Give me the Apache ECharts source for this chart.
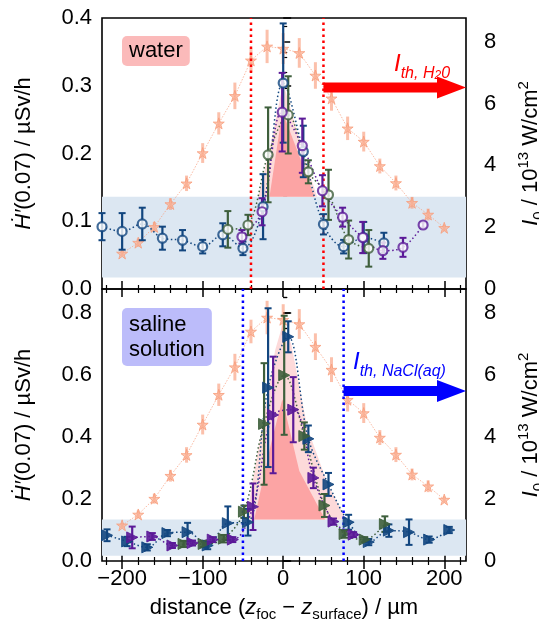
<!DOCTYPE html>
<html>
<head>
<meta charset="utf-8">
<script src="https://cdn.jsdelivr.net/npm/echarts@6/dist/echarts.min.js"></script>
<style>
  html, body { margin: 0; padding: 0; background: #fff; }
  #chart { width: 539px; height: 624px; }
</style>
</head>
<body>
<div id="chart"></div>
<script>
// ---- axis ranges and ticks ----
const X_RANGE = [-225, 227];
const xMajor = [-200, -100, 0, 100, 200];
const xMinor = [-220, -180, -160, -140, -120, -80, -60, -40, -20, 20, 40, 60, 80, 120, 140, 160, 180, 220];
const yTopRange = [0, 0.4];
const yTopMajor = [0, 0.1, 0.2, 0.3, 0.4];
const yTopMinor = [0.05, 0.15, 0.25, 0.35];
const yBotRange = [0, 0.8772];
const yBotMajor = [0, 0.2, 0.4, 0.6, 0.8];
const yBotMinor = [0.05, 0.1, 0.15, 0.25, 0.3, 0.35, 0.45, 0.5, 0.55, 0.65, 0.7, 0.75, 0.85];
const iRange = [0, 8.77];
const iMajor = [0, 2, 4, 6, 8];
const iMinor = [0.5, 1, 1.5, 2.5, 3, 3.5, 4.5, 5, 5.5, 6.5, 7, 7.5, 8.5];

// ---- peak intensity along z (right axis, 10^13 W/cm²) ----
const starX = [-200, -180, -160, -140, -120, -100, -80, -60, -40, -20, 0, 20, 40, 60, 80, 100, 120, 140, 160, 180, 200];
const starI = [1.15, 1.50, 2.01, 2.75, 3.42, 4.40, 5.36, 6.25, 7.40, 7.85, 7.78, 7.64, 6.91, 6.17, 5.20, 4.77, 3.98, 3.43, 2.79, 2.41, 1.98];
const starErr = [0.08, 0.13, 0.16, 0.19, 0.25, 0.32, 0.36, 0.43, 0.38, 0.54, 0.5, 0.48, 0.43, 0.4, 0.38, 0.32, 0.24, 0.24, 0.19, 0.19, 0.1];

// ---- dose rate, water ----
const waterBlueX = [-225, -200, -175, -150, -125, -100, -75, -50, -25, 0, 25, 50, 75, 100, 125];
const waterBlueV = [0.092, 0.085, 0.096, 0.075, 0.072, 0.0625, 0.080, 0.060, 0.1215, 0.304, 0.203, 0.0955, 0.0625, 0.076, 0.068];
const waterBlueE = [0.02, 0.027, 0.024, 0.017, 0.015, 0.01, 0.017, 0.01, 0.048, 0.088, 0.038, 0.015, 0.01, 0.023, 0.015];
const waterGreenX = [-68.75, -43.75, -18.75, 6.25, 31.25, 56.25, 81.25, 106.25];
const waterGreenV = [0.088, 0.0945, 0.198, 0.257, 0.173, 0.139, 0.073, 0.060];
const waterGreenE = [0.027, 0.015, 0.07, 0.057, 0.017, 0.037, 0.028, 0.027];
const waterPurpleX = [-51.25, -26.25, -1.25, 23.75, 48.75, 73.75, 98.75, 123.75, 148.75, 173.75];
const waterPurpleV = [0.077, 0.114, 0.261, 0.2115, 0.145, 0.106, 0.076, 0.0565, 0.0615, 0.0945];
const waterPurpleE = [0.01, 0.02, 0.058, 0.04, 0.023, 0.014, 0.023, 0.012, 0.014, 0.004];

// ---- dose rate, saline solution ----
const salineBlueX = [-218.75, -193.75, -168.75, -143.75, -118.75, -93.75, -68.75, -43.75, -18.75, 6.25, 31.25, 56.25, 81.25, 106.25, 131.25, 156.25, 181.25, 206.25];
const salineBlueV = [0.083, 0.063, 0.044, 0.09, 0.093, 0.05, 0.122, 0.125, 0.559, 0.723, 0.394, 0.247, 0.125, 0.061, 0.098, 0.093, 0.069, 0.1];
const salineBlueE = [0.019, 0.015, 0.01, 0.01, 0.03, 0.012, 0.054, 0.043, 0.256, 0.05, 0.043, 0.037, 0.024, 0.01, 0.02, 0.041, 0.01, 0.01];
const salineGreenX = [-123.75, -98.75, -73.75, -48.75, -23.75, 1.25, 26.25, 51.25, 76.25, 101.25, 126.25];
const salineGreenV = [0.055, 0.055, 0.072, 0.159, 0.442, 0.599, 0.403, 0.179, 0.087, 0.069, 0.119];
const salineGreenE = [0.01, 0.01, 0.012, 0.02, 0.196, 0.192, 0.044, 0.037, 0.012, 0.008, 0.025];
const salinePurpleX = [-187.5, -162.5, -137.5, -112.5, -87.5, -62.5, -37.5, -12.5, 12.5, 37.5, 62.5, 87.5];
const salinePurpleV = [0.076, 0.079, 0.05, 0.058, 0.069, 0.069, 0.175, 0.471, 0.488, 0.268, 0.127, 0.085];
const salinePurpleE = [0.035, 0.011, 0.008, 0.008, 0.008, 0.008, 0.075, 0.188, 0.105, 0.033, 0.01, 0.008];

// ---- background band and above-background regions ----
const waterBand = [0.017, 0.136];
const salineBand = [0.017, 0.134];
const waterEnvelopeX = [-31, -18, 0, 25, 42];
const waterEnvelopeV = [0.136, 0.2, 0.304, 0.2, 0.136];
const waterCoreX = [-17, -1, 22, 39];
const waterCoreV = [0.136, 0.262, 0.19, 0.136];
const salineEnvelopeX = [-46, -25, -10, -1, 10, 30, 55, 78];
const salineEnvelopeV = [0.134, 0.45, 0.68, 0.76, 0.7, 0.43, 0.25, 0.134];
const salineCoreX = [-36, -15, -1, 20, 52];
const salineCoreV = [0.134, 0.38, 0.522, 0.29, 0.134];

// ---- ablation thresholds: focus positions (µm) and intensity level ----
const waterThresholdX = [-40, 50];
const waterThresholdI = [6.52];
const salineThresholdX = [-50, 75];
const salineThresholdI = [5.48];

const FONT = "'Liberation Sans', Arial, sans-serif";
const FS = 22;
const BLUE = '#12467f';
const GREEN = '#3e5f3c';
const PURPLE = '#5b1a98';
const STAR = '#f89d7c';

const minus = v => (v < 0 ? '\u2212' + Math.abs(v) : String(v));

function xAxisSet(gridIndex, withLabels) {
  const base = { type: 'value', gridIndex, min: X_RANGE[0], max: X_RANGE[1], splitLine: { show: false }, axisLine: { show: false } };
  const major = { show: true, inside: true, length: 8, customValues: xMajor, lineStyle: { color: '#000', width: 1.5 } };
  const minor = { show: true, inside: true, length: 4, customValues: xMinor, lineStyle: { color: '#000', width: 1.2 } };
  const axes = [
    Object.assign({}, base, { position: 'bottom', axisTick: major,
      axisLabel: { show: withLabels, customValues: xMajor, formatter: minus, fontFamily: FONT, fontSize: FS, color: '#000', margin: 7 } }),
    Object.assign({}, base, { position: 'bottom', axisTick: minor, axisLabel: { show: false } }),
    Object.assign({}, base, { position: 'top', axisTick: major, axisLabel: { show: false } }),
    Object.assign({}, base, { position: 'top', axisTick: minor, axisLabel: { show: false } })
  ];
  if (withLabels) {
    axes[0].name = 'distance ({i|z}{sub|foc} \u2212 {i|z}{sub|surface}) / µm';
    axes[0].nameLocation = 'middle';
    axes[0].nameGap = 33;
    axes[0].nameTextStyle = { fontFamily: FONT, fontSize: FS, color: '#000', lineHeight: 28,
      rich: { i: { fontStyle: 'italic', fontSize: FS, fontFamily: FONT, lineHeight: 28 },
              sub: { fontSize: 15, fontFamily: FONT, verticalAlign: 'bottom', lineHeight: 28 } } };
  }
  return axes;
}

const nameRich = {
  i: { fontStyle: 'italic', fontSize: FS, fontFamily: FONT, lineHeight: 30 },
  sub: { fontStyle: 'normal', fontSize: 15, fontFamily: FONT, verticalAlign: 'bottom', lineHeight: 30 },
  sup: { fontSize: 15, fontFamily: FONT, verticalAlign: 'top', lineHeight: 30 }
};

function yAxisSet(gridIndex, range, major, minor, digits) {
  const leftBase = { type: 'value', gridIndex, min: range[0], max: range[1], position: 'left', splitLine: { show: false }, axisLine: { show: false } };
  const rightBase = { type: 'value', gridIndex, min: iRange[0], max: iRange[1], position: 'right', splitLine: { show: false }, axisLine: { show: false } };
  return [
    Object.assign({}, leftBase, {
      axisTick: { show: true, inside: true, length: 8, customValues: major, lineStyle: { color: '#000', width: 1.5 } },
      axisLabel: { customValues: major, formatter: v => v.toFixed(digits), fontFamily: FONT, fontSize: FS, color: '#000', margin: 10 },
      name: '{i|Ḣ′}(0.07) / µSv/h', nameLocation: 'middle', nameRotate: 90, nameGap: 63,
      nameTextStyle: { fontFamily: FONT, fontSize: FS, color: '#000', lineHeight: 30, rich: nameRich }
    }),
    Object.assign({}, leftBase, {
      axisTick: { show: true, inside: true, length: 4, customValues: minor, lineStyle: { color: '#000', width: 1.2 } },
      axisLabel: { show: false }
    }),
    Object.assign({}, rightBase, {
      axisTick: { show: true, inside: false, length: 7, customValues: iMajor, lineStyle: { color: '#000', width: 1.5 } },
      axisLabel: { customValues: iMajor, fontFamily: FONT, fontSize: FS, color: '#000', margin: 18 },
      name: '{i|I}{sub|0} / 10{sup|13} W/cm{sup|2}', nameLocation: 'middle', nameRotate: 90, nameGap: 50,
      nameTextStyle: { fontFamily: FONT, fontSize: FS, color: '#000', lineHeight: 30, rich: nameRich }
    }),
    Object.assign({}, rightBase, {
      axisTick: { show: true, inside: false, length: 4, customValues: iMinor, lineStyle: { color: '#000', width: 1.2 } },
      axisLabel: { show: false }
    })
  ];
}

// axis index helpers: panel 0 uses x 0..3 / y 0..3, panel 1 uses x 4..7 / y 4..7
function ax(panel) { return { x: panel * 4, yl: panel * 4, yr: panel * 4 + 2 }; }

function bandSeries(panel, band, z) {
  const a = ax(panel);
  return { type: 'custom', xAxisIndex: a.x, yAxisIndex: a.yl, z, silent: true, data: [0],
    renderItem(params, api) {
      const p0 = api.coord([X_RANGE[0], band[1]]);
      const p1 = api.coord([X_RANGE[1], band[0]]);
      return { type: 'rect', shape: { x: p0[0], y: p0[1], width: p1[0] - p0[0], height: p1[1] - p0[1] },
        style: { fill: '#dce7f2' } };
    } };
}

function polygonSeries(panel, xs, vs, color, z) {
  const a = ax(panel);
  return { type: 'custom', xAxisIndex: a.x, yAxisIndex: a.yl, z, silent: true, data: [0],
    renderItem(params, api) {
      const pts = xs.map((x, i) => api.coord([x, vs[i]]));
      return { type: 'polygon', shape: { points: pts }, style: { fill: color } };
    } };
}

function vlineSeries(panel, xs, range, color, z) {
  const a = ax(panel);
  return { type: 'custom', xAxisIndex: a.x, yAxisIndex: a.yl, z, silent: true, data: xs.map(x => [x]),
    renderItem(params, api) {
      const x = api.value(0);
      const p0 = api.coord([x, range[0]]);
      const p1 = api.coord([x, range[1]]);
      return { type: 'line', shape: { x1: p0[0], y1: p0[1], x2: p1[0], y2: p1[1] },
        style: { stroke: color, lineWidth: 2.5, lineDash: [2.5, 3.5] } };
    } };
}

function arrowSeries(panel, startX, level, color, z) {
  const a = ax(panel);
  return { type: 'custom', xAxisIndex: a.x, yAxisIndex: a.yr, z, silent: true, data: [[startX, level]],
    renderItem(params, api) {
      const p0 = api.coord([api.value(0), api.value(1)]);
      const p1 = api.coord([X_RANGE[1], api.value(1)]);
      const head = 29, hw = 11, sw = 5;
      const xb = p1[0] - head, y = p0[1];
      return { type: 'polygon', shape: { points: [
        [p0[0], y - sw], [xb, y - sw], [xb, y - hw], [p1[0], y], [xb, y + hw], [xb, y + sw], [p0[0], y + sw]
      ] }, style: { fill: color } };
    } };
}

function errorSeries(xi, yi, xs, vs, es, color, width, cap, z) {
  return { type: 'custom', xAxisIndex: xi, yAxisIndex: yi, z, silent: true,
    data: xs.map((x, i) => [x, vs[i], es[i]]),
    renderItem(params, api) {
      const x = api.value(0), v = api.value(1), e = api.value(2);
      const t = api.coord([x, v + e]), b = api.coord([x, v - e]);
      const kids = [{ type: 'line', shape: { x1: t[0], y1: t[1], x2: b[0], y2: b[1] }, style: { stroke: color, lineWidth: width } }];
      if (cap) {
        kids.push({ type: 'line', shape: { x1: t[0] - cap, y1: t[1], x2: t[0] + cap, y2: t[1] }, style: { stroke: color, lineWidth: 2 } });
        kids.push({ type: 'line', shape: { x1: b[0] - cap, y1: b[1], x2: b[0] + cap, y2: b[1] }, style: { stroke: color, lineWidth: 2 } });
      }
      return { type: 'group', children: kids };
    } };
}

function measurement(panel, xs, vs, es, color, symbol) {
  const a = ax(panel);
  const data = xs.map((x, i) => [x, vs[i]]);
  const marker = symbol === 'circle'
    ? { symbol: 'circle', symbolSize: 9, itemStyle: { color: '#fff', borderColor: color, borderWidth: 2.2 } }
    : { symbol: 'triangle', symbolSize: 11, symbolRotate: -90, itemStyle: { color: color, borderColor: color, borderWidth: 1, opacity: 0.9 } };
  return [
    { type: 'line', xAxisIndex: a.x, yAxisIndex: a.yl, z: 7, data, smooth: 0.35, symbol: 'none', silent: true,
      lineStyle: { color, width: 1.5, type: [1.5, 2.5] } },
    errorSeries(a.x, a.yl, xs, vs, es, color, 2.2, 3.5, 8),
    Object.assign({ type: 'scatter', xAxisIndex: a.x, yAxisIndex: a.yl, z: 9, data, silent: true }, marker)
  ];
}

function intensitySeries(panel) {
  const a = ax(panel);
  const data = starX.map((x, i) => [x, starI[i]]);
  return [
    { type: 'line', xAxisIndex: a.x, yAxisIndex: a.yr, z: 4, data, symbol: 'none', silent: true,
      lineStyle: { color: STAR, width: 1, type: [1.5, 1.5], opacity: 0.7 } },
    errorSeries(a.x, a.yr, starX, starI, starErr, 'rgba(248,150,115,0.6)', 3, 0, 4),
    { type: 'scatter', xAxisIndex: a.x, yAxisIndex: a.yr, z: 5, data, silent: true,
      symbol: 'path://M50,0 L61,35 L98,35 L68,57 L79,91 L50,70 L21,91 L32,57 L2,35 L39,35 Z', symbolSize: 11,
      itemStyle: { color: 'rgba(251,175,145,0.85)', borderColor: STAR, borderWidth: 1 } }
  ];
}

const series = [].concat(
  bandSeries(0, waterBand, 1),
  polygonSeries(0, waterEnvelopeX, waterEnvelopeV, '#fddada', 2),
  polygonSeries(0, waterCoreX, waterCoreV, '#fca4a4', 3),
  intensitySeries(0),
  vlineSeries(0, waterThresholdX, yTopRange, '#ff0000', 6),
  measurement(0, waterBlueX, waterBlueV, waterBlueE, BLUE, 'circle'),
  measurement(0, waterGreenX, waterGreenV, waterGreenE, GREEN, 'circle'),
  measurement(0, waterPurpleX, waterPurpleV, waterPurpleE, PURPLE, 'circle'),
  arrowSeries(0, waterThresholdX[1], waterThresholdI[0], '#ff0000', 10),

  bandSeries(1, salineBand, 1),
  polygonSeries(1, salineEnvelopeX, salineEnvelopeV, '#fddada', 2),
  polygonSeries(1, salineCoreX, salineCoreV, '#fca4a4', 3),
  intensitySeries(1),
  vlineSeries(1, salineThresholdX, yBotRange, '#0000ff', 6),
  measurement(1, salineBlueX, salineBlueV, salineBlueE, BLUE, 'triangle'),
  measurement(1, salineGreenX, salineGreenV, salineGreenE, GREEN, 'triangle'),
  measurement(1, salinePurpleX, salinePurpleV, salinePurpleE, PURPLE, 'triangle'),
  arrowSeries(1, salineThresholdX[1], salineThresholdI[0], '#0000ff', 10)
);

const chart = echarts.init(document.getElementById('chart'), null, { renderer: 'canvas' });
chart.setOption({
  animation: false,
  backgroundColor: '#fff',
  grid: [
    { left: 102, top: 18, width: 364, height: 271, outerBoundsMode: 'none', containLabel: false,
      show: true, borderColor: '#000', borderWidth: 1.6, backgroundColor: 'transparent' },
    { left: 102, top: 289, width: 364, height: 272, outerBoundsMode: 'none', containLabel: false,
      show: true, borderColor: '#000', borderWidth: 1.6, backgroundColor: 'transparent' }
  ],
  xAxis: [].concat(xAxisSet(0, false), xAxisSet(1, true)),
  yAxis: [].concat(yAxisSet(0, yTopRange, yTopMajor, yTopMinor, 1), yAxisSet(1, yBotRange, yBotMajor, yBotMinor, 1)),
  series,
  graphic: [
    { type: 'text', left: 122, top: 36, z: 20,
      style: { text: 'water', fontFamily: FONT, fontSize: 22, fill: '#000', backgroundColor: '#fbbaba',
        borderRadius: 5, padding: [4, 7, 4, 7] } },
    { type: 'text', left: 122, top: 308, z: 20,
      style: { text: 'saline\nsolution', fontFamily: FONT, fontSize: 22, lineHeight: 25, fill: '#000', backgroundColor: '#bcbcfa',
        borderRadius: 5, padding: [4, 7, 4, 7] } },
    { type: 'text', left: 394, top: 52, z: 20,
      style: { rich: {
          I: { fontFamily: FONT, fontSize: 24, fontStyle: 'italic', fill: '#ff0000', lineHeight: 30, verticalAlign: 'top' },
          s: { fontFamily: FONT, fontSize: 16, fontStyle: 'italic', fill: '#ff0000', lineHeight: 30, verticalAlign: 'bottom' },
          ss: { fontFamily: FONT, fontSize: 12, fontStyle: 'italic', fill: '#ff0000', lineHeight: 30, verticalAlign: 'bottom' }
        },
        text: '{I|I}{s|th, H}{ss|2}{s|0}' } },
    { type: 'text', left: 353, top: 350, z: 20,
      style: { rich: {
          I: { fontFamily: FONT, fontSize: 24, fontStyle: 'italic', fill: '#0000ff', lineHeight: 30, verticalAlign: 'top' },
          s: { fontFamily: FONT, fontSize: 16, fontStyle: 'italic', fill: '#0000ff', lineHeight: 30, verticalAlign: 'bottom' }
        },
        text: '{I|I}{s|th, NaCl(aq)}' } }
  ]
});
</script>
</body>
</html>
